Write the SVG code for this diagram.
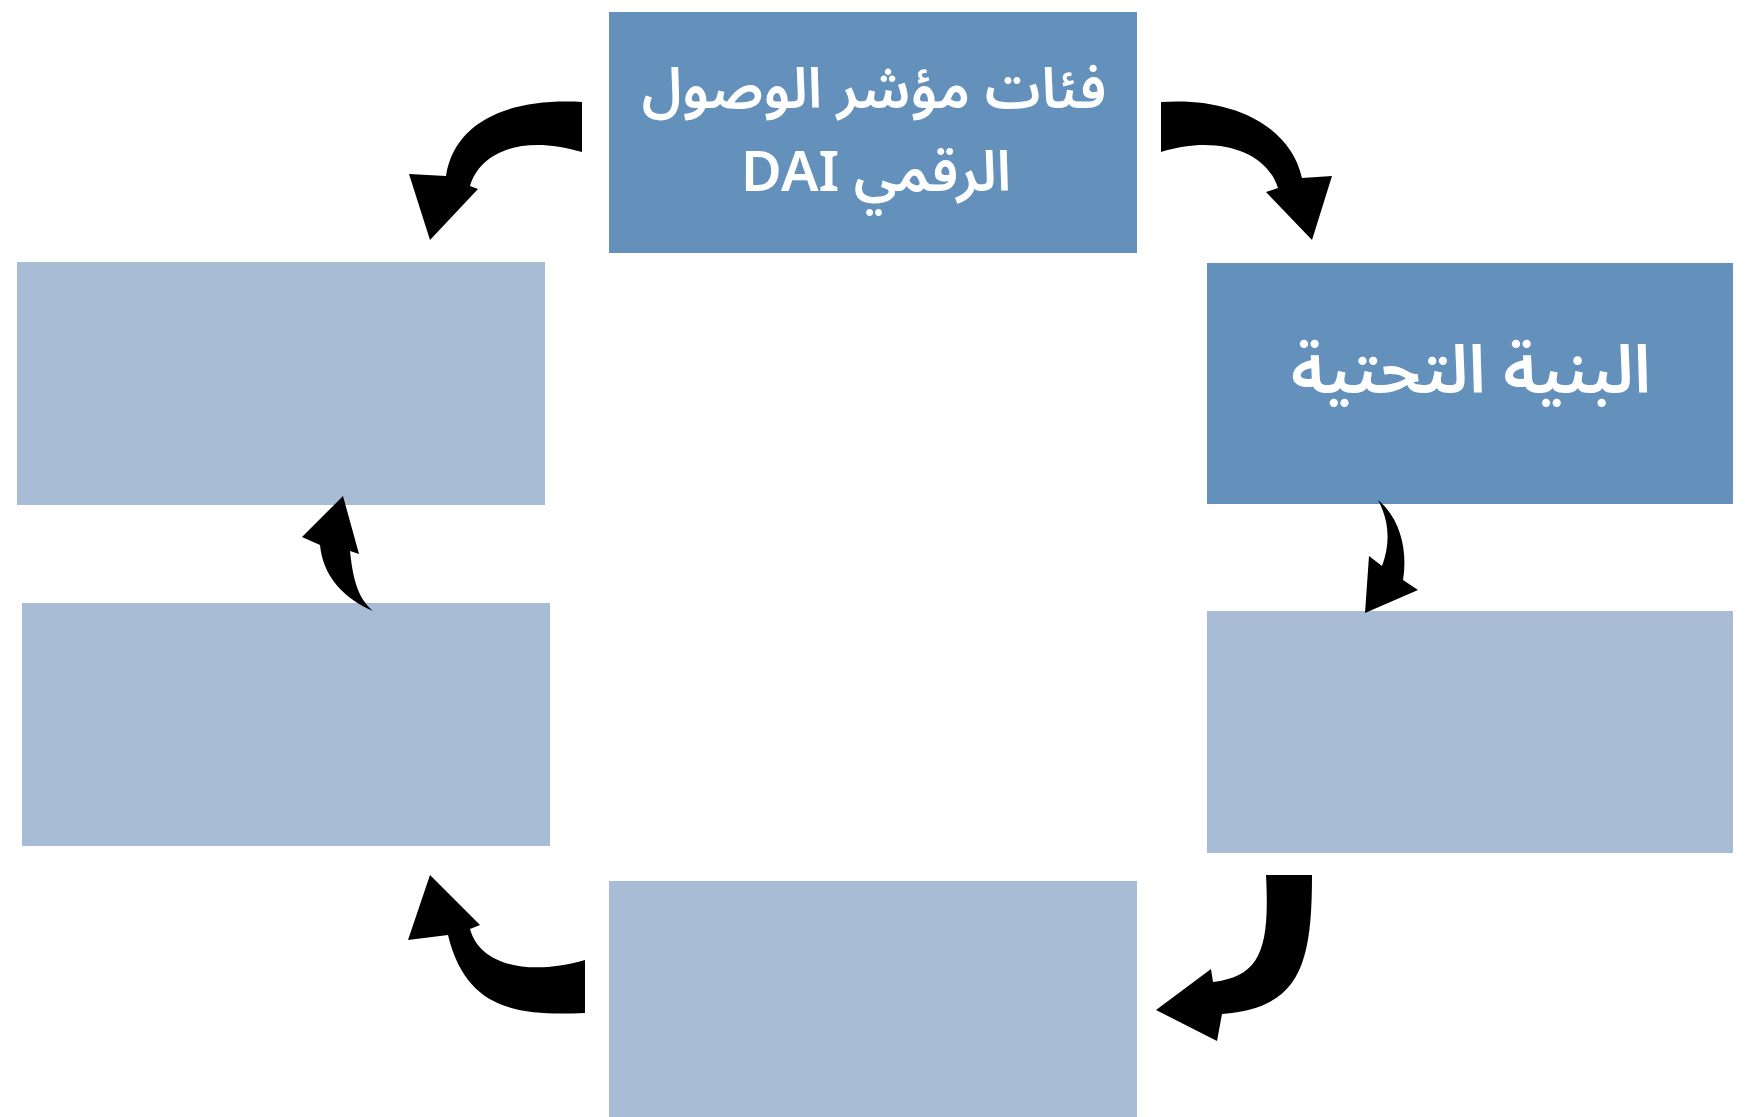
<svg xmlns="http://www.w3.org/2000/svg" width="1756" height="1117" viewBox="0 0 1756 1117">
<style>
.dark{fill:#6391bb}
.light{fill:#a9bcd6}
.lbl{fill:#ffffff;font-family:"Noto Sans Arabic","DejaVu Sans",sans-serif;font-weight:600;text-anchor:middle;direction:rtl}
.arr{fill:#000000}
</style>
<rect width="1756" height="1117" fill="#ffffff"/>
<g id="node-top">
<rect class="dark" x="609" y="12" width="528" height="241"/>
<text class="lbl" x="874" y="108" font-size="56">فئات مؤشر الوصول</text>
<text class="lbl" x="876" y="191" font-size="56">الرقمي DAI</text>
</g>
<g id="node-infra">
<rect class="dark" x="1207" y="263" width="526" height="241"/>
<text class="lbl" x="1471" y="393" font-size="67">البنية التحتية</text>
</g>
<g id="node-right-mid">
<rect class="light" x="1207" y="611" width="526" height="242"/>
</g>
<g id="node-bottom">
<rect class="light" x="609" y="881" width="528" height="236"/>
</g>
<g id="node-left-mid">
<rect class="light" x="22" y="603" width="528" height="243"/>
</g>
<g id="node-left-top">
<rect class="light" x="17" y="262" width="528" height="243"/>
</g>
<g id="connectors">
<path class="arr" d="M582,102 C515,98 455,118 446,176 L409,174 L430,240 L478,189 L470,186 C480,152 522,134 582,152 Z"/>
<path class="arr" d="M1161,102 C1232,97 1290,125 1302,178 L1332,176 L1312,240 L1266,192 L1278,188 C1266,150 1215,135 1161,152 Z"/>
<path class="arr" d="M1378,500 C1400,518 1408,550 1403,580 L1418,590 L1365,613 L1369,556 L1382,566 C1390,545 1390,522 1378,500 Z"/>
<path class="arr" d="M1266,875 L1312,875 C1312,965 1300,1008 1222,1014 L1217,1041 L1156,1010 L1211,969 L1213,982 C1260,976 1270,950 1266,875 Z"/>
<path class="arr" d="M585,960 L585,1013 C518,1016 466,1010 448,935 L408,940 L430,875 L480,925 L470,929 C480,966 530,976 585,960 Z"/>
<path class="arr" d="M373,611 C343,598 323,576 320,545 L302,537 L343,496 L359,554 L350,551 C353,580 358,598 373,611 Z"/>
</g>
</svg>
